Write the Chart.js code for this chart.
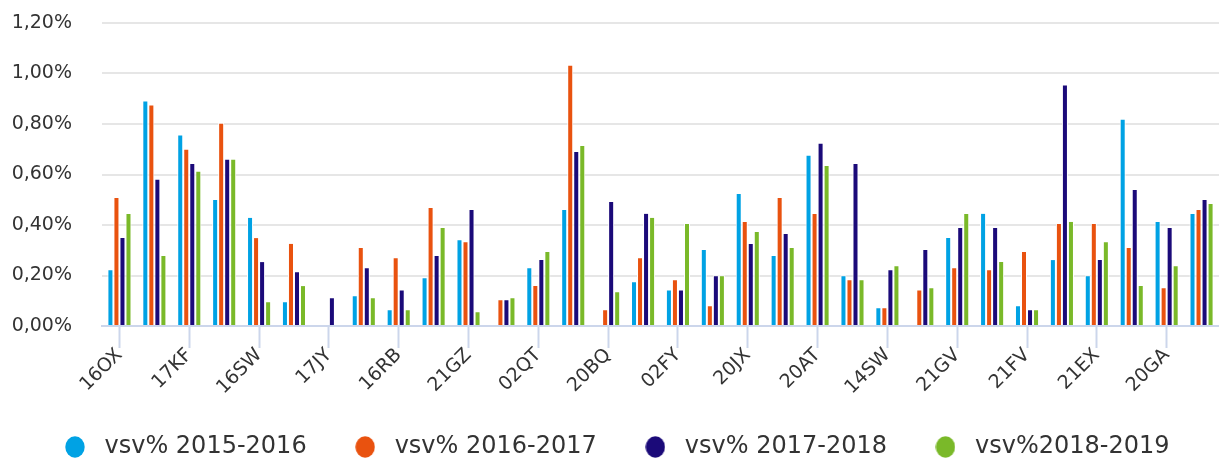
<!DOCTYPE html>
<html>
<head>
<meta charset="utf-8">
<script src="https://cdn.jsdelivr.net/npm/chart.js@4/dist/chart.umd.min.js"></script>
<style>
  html, body { margin: 0; padding: 0; background: #fff; }
  #wrap { width: 1219px; height: 460px; }
</style>
</head>
<body>
<div id="wrap"><canvas id="myChart" width="1219" height="460"></canvas></div>
<script>
// category codes; the in-between ones carry no visible label in the source
const categories = [
    '16OX', '', '17KF', '', '16SW', '', '17JY', '', '16RB', '', '21GZ', '',
    '02QT', '', '20BQ', '', '02FY', '', '20JX', '', '20AT', '', '14SW', '',
    '21GV', '', '21FV', '', '21EX', '', '20GA', ''
];

// values in percent
const vsv2015_2016 = [0.225, 0.893, 0.758, 0.503, 0.432, 0.098, null, 0.122, 0.066, 0.193, 0.344, null,
    0.233, 0.463, null, 0.177, 0.145, 0.305, 0.527, 0.281, 0.678, 0.201, 0.074, null,
    0.352, 0.448, 0.082, 0.265, 0.201, 0.821, 0.416, 0.448];
const vsv2016_2017 = [0.511, 0.877, 0.702, 0.805, 0.352, 0.329, null, 0.313, 0.272, 0.471, 0.336, 0.106,
    0.162, 1.035, 0.066, 0.272, 0.185, 0.082, 0.416, 0.511, 0.448, 0.185, 0.074, 0.145,
    0.233, 0.225, 0.297, 0.408, 0.408, 0.313, 0.153, 0.463];
const vsv2017_2018 = [0.352, 0.583, 0.646, 0.662, 0.257, 0.217, 0.114, 0.233, 0.145, 0.281, 0.463, 0.106,
    0.265, 0.693, 0.495, 0.448, 0.145, 0.201, 0.329, 0.368, 0.726, 0.646, 0.225, 0.305,
    0.392, 0.392, 0.066, 0.956, 0.265, 0.543, 0.392, 0.503];
const vsv2018_2019 = [0.448, 0.281, 0.615, 0.662, 0.098, 0.162, null, 0.114, 0.066, 0.392, 0.058, 0.114,
    0.297, 0.717, 0.138, 0.432, 0.408, 0.201, 0.376, 0.313, 0.638, 0.185, 0.241, 0.153,
    0.448, 0.257, 0.066, 0.416, 0.336, 0.162, 0.241, 0.487];

const seriesNames = ['vsv% 2015-2016', 'vsv% 2016-2017', 'vsv% 2017-2018', 'vsv%2018-2019'];
const yTicks = [0, 0.2, 0.4, 0.6, 0.8, 1.0, 1.2];

const colors = ['#00a2e4', '#e9520f', '#1b0a79', '#7ab929'];
const fontFamily = '"DejaVu Sans", Verdana, sans-serif';

// small round marker for the legend
function legendDot(color) {
    const c = document.createElement('canvas');
    c.width = 20;
    c.height = 22;
    const ctx = c.getContext('2d');
    ctx.fillStyle = color;
    ctx.beginPath();
    ctx.ellipse(10, 11, 9.7, 10.7, 0, 0, Math.PI * 2);
    ctx.fill();
    return c;
}

function dataset(i, values) {
    return {
        label: seriesNames[i],
        data: values,
        backgroundColor: colors[i],
        borderColor: '#ffffff',
        borderWidth: 1,
        borderSkipped: 'start',
        barPercentage: 1.0,
        categoryPercentage: 0.69,
        pointStyle: legendDot(colors[i])
    };
}

const config = {
    type: 'bar',
    data: {
        labels: categories,
        datasets: [
            dataset(0, vsv2015_2016),
            dataset(1, vsv2016_2017),
            dataset(2, vsv2017_2018),
            dataset(3, vsv2018_2019)
        ]
    },
    options: {
        responsive: false,
        animation: false,
        layout: {
            padding: { top: 23, left: 8, right: 0, bottom: -9 }
        },
        plugins: {
            tooltip: { enabled: false },
            legend: {
                position: 'bottom',
                labels: {
                    usePointStyle: true,
                    pointStyleWidth: 35,
                    boxHeight: 22,
                    padding: 41,
                    color: '#333333',
                    font: { family: fontFamily, size: 24 }
                }
            }
        },
        scales: {
            x: {
                offset: true,
                afterFit: function (scale) {
                    scale.height = 68;
                    scale.paddingLeft = 0;
                    scale.paddingRight = 0;
                },
                border: { display: true, color: '#ccd6eb', width: 2 },
                grid: {
                    offset: false,
                    drawOnChartArea: false,
                    drawTicks: true,
                    tickLength: 22,
                    tickWidth: 2,
                    tickColor: function (ctx) { return ctx.index % 2 ? 'rgba(0,0,0,0)' : '#ccd6eb'; }
                },
                ticks: {
                    autoSkip: false,
                    minRotation: 45,
                    maxRotation: 45,
                    padding: -4,
                    color: '#333333',
                    font: { family: fontFamily, size: 19 }
                }
            },
            y: {
                min: 0,
                max: 1.2,
                afterBuildTicks: function (scale) {
                    scale.ticks = yTicks.map(function (v) { return { value: v }; });
                },
                afterFit: function (scale) {
                    scale.width = 94;
                    scale.paddingTop = 0;
                    scale.paddingBottom = 0;
                },
                border: { display: false },
                grid: {
                    color: '#e6e6e6',
                    lineWidth: 2,
                    drawTicks: false
                },
                ticks: {
                    padding: 30,
                    color: '#333333',
                    font: { family: fontFamily, size: 19 },
                    callback: function (value) {
                        return value.toFixed(2).replace('.', ',') + '%';
                    }
                }
            }
        }
    }
};

const myChart = new Chart(
    document.getElementById('myChart'),
    config
);
</script>
</body>
</html>
